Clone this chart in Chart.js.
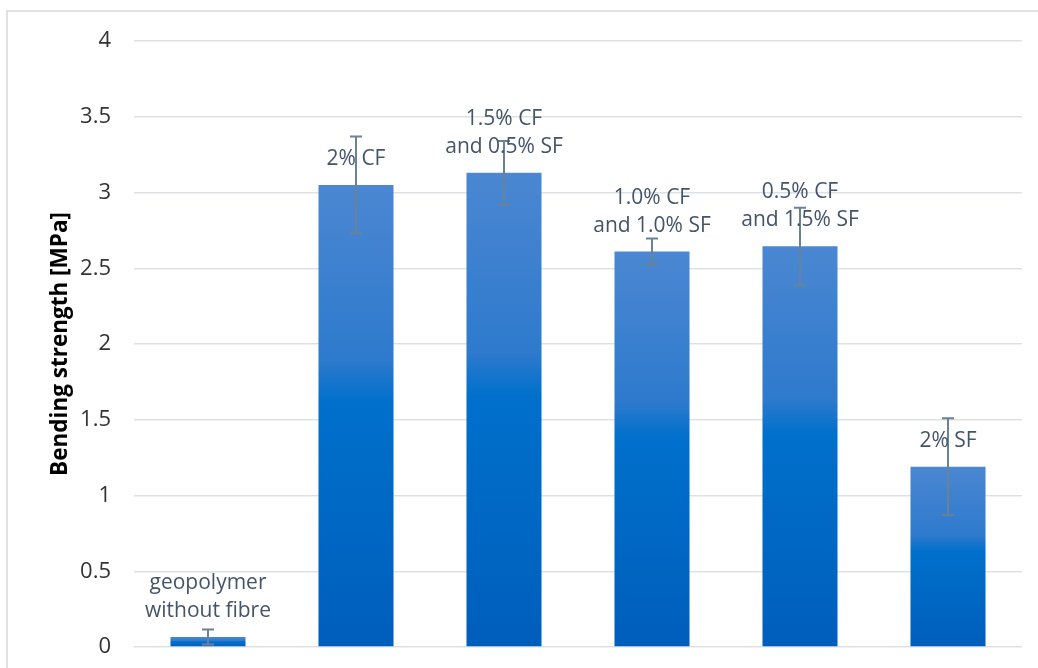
<!DOCTYPE html>
<html>
<head>
  <title>Bending strength</title>
  <script src="https://cdn.jsdelivr.net/npm/chart.js"></script>
  <style>
    body { margin: 0; background: #fff; overflow: hidden; }
  </style>
</head>
<body>
  <canvas id="bendChart" width="1038" height="668"></canvas>
  <script>
    const mixes = ['geopolymer without fibre', '2% CF', '1.5% CF and 0.5% SF',
                   '1.0% CF and 1.0% SF', '0.5% CF and 1.5% SF', '2% SF'];
    const labelLines = [['geopolymer', 'without fibre'], ['2% CF'], ['1.5% CF', 'and 0.5% SF'],
                        ['1.0% CF', 'and 1.0% SF'], ['0.5% CF', 'and 1.5% SF'], ['2% SF']];
    const strength = [0.066, 3.05, 3.13, 2.61, 2.645, 1.19];
    const errors = [0.05, 0.32, 0.21, 0.087, 0.255, 0.32];

    const font = '"Open Sans", "DejaVu Sans", sans-serif';

    // frame, error bars and the labels above the bars
    const extras = {
      id: 'extras',
      beforeDraw(chart) {
        const c = chart.ctx;
        c.save();
        c.strokeStyle = '#d9d9d9';
        c.lineWidth = 1.5;
        c.strokeRect(7, 11, 1200, 900);
        c.restore();
      },
      afterDatasetsDraw(chart) {
        const c = chart.ctx;
        const x = chart.scales.x, y = chart.scales.y;
        c.save();
        c.strokeStyle = '#6b8198';
        c.lineWidth = 2;
        strength.forEach((v, i) => {
          const px = x.getPixelForValue(i);
          const hi = y.getPixelForValue(v + errors[i]);
          const lo = y.getPixelForValue(v - errors[i]);
          c.beginPath();
          c.moveTo(px, hi); c.lineTo(px, lo);
          c.moveTo(px - 6, hi); c.lineTo(px + 6, hi);
          c.moveTo(px - 6, lo); c.lineTo(px + 6, lo);
          c.stroke();
        });
        c.fillStyle = '#44546A';
        c.font = '21px ' + font;
        c.textAlign = 'center';
        c.textBaseline = 'middle';
        strength.forEach((v, i) => {
          const px = x.getPixelForValue(i);
          const top = y.getPixelForValue(v);
          const lines = labelLines[i];
          lines.forEach((t, k) => {
            c.fillText(t, px, top - 26 - (lines.length - 1 - k) * 28);
          });
        });
        c.restore();
      }
    };

    const ctx = document.getElementById('bendChart').getContext('2d');
    const bendChart = new Chart(ctx, {
      type: 'bar',
      data: {
        labels: mixes,
        datasets: [{
          label: 'Bending strength',
          data: strength,
          backgroundColor: (cx) => {
            const chart = cx.chart;
            if (!chart.chartArea || cx.dataIndex === undefined) return '#0070cc';
            const y = chart.scales.y;
            const top = y.getPixelForValue(strength[cx.dataIndex]);
            const bottom = y.getPixelForValue(0);
            const g = chart.ctx.createLinearGradient(0, top, 0, bottom);
            g.addColorStop(0, '#4b87d2');
            g.addColorStop(0.38, '#2e7acd');
            g.addColorStop(0.47, '#0070cc');
            g.addColorStop(1, '#005ebb');
            return g;
          },
          borderWidth: 0,
          categoryPercentage: 0.507,
          barPercentage: 1
        }]
      },
      options: {
        responsive: false,
        animation: false,
        layout: { padding: { top: 41, bottom: 21, right: 16, left: 0 } },
        plugins: {
          legend: { display: false },
          tooltip: { enabled: false }
        },
        scales: {
          x: { display: false },
          y: {
            min: 0,
            max: 4,
            afterFit(s) { s.width = 134; },
            ticks: {
              stepSize: 0.5,
              padding: 0,
              color: '#333333',
              font: { family: font, size: 22 },
              callback: (v) => String(v)
            },
            grid: { color: '#dde1e6', lineWidth: 1.5, drawTicks: true, tickLength: 23, tickColor: 'rgba(0,0,0,0)' },
            border: { display: false },
            title: {
              display: true,
              text: 'Bending strength [MPa]',
              color: '#000',
              font: { family: font, size: 22.5, weight: 'bold' },
              padding: { top: 47, bottom: 0 }
            }
          }
        }
      },
      plugins: [extras]
    });
  </script>
</body>
</html>
